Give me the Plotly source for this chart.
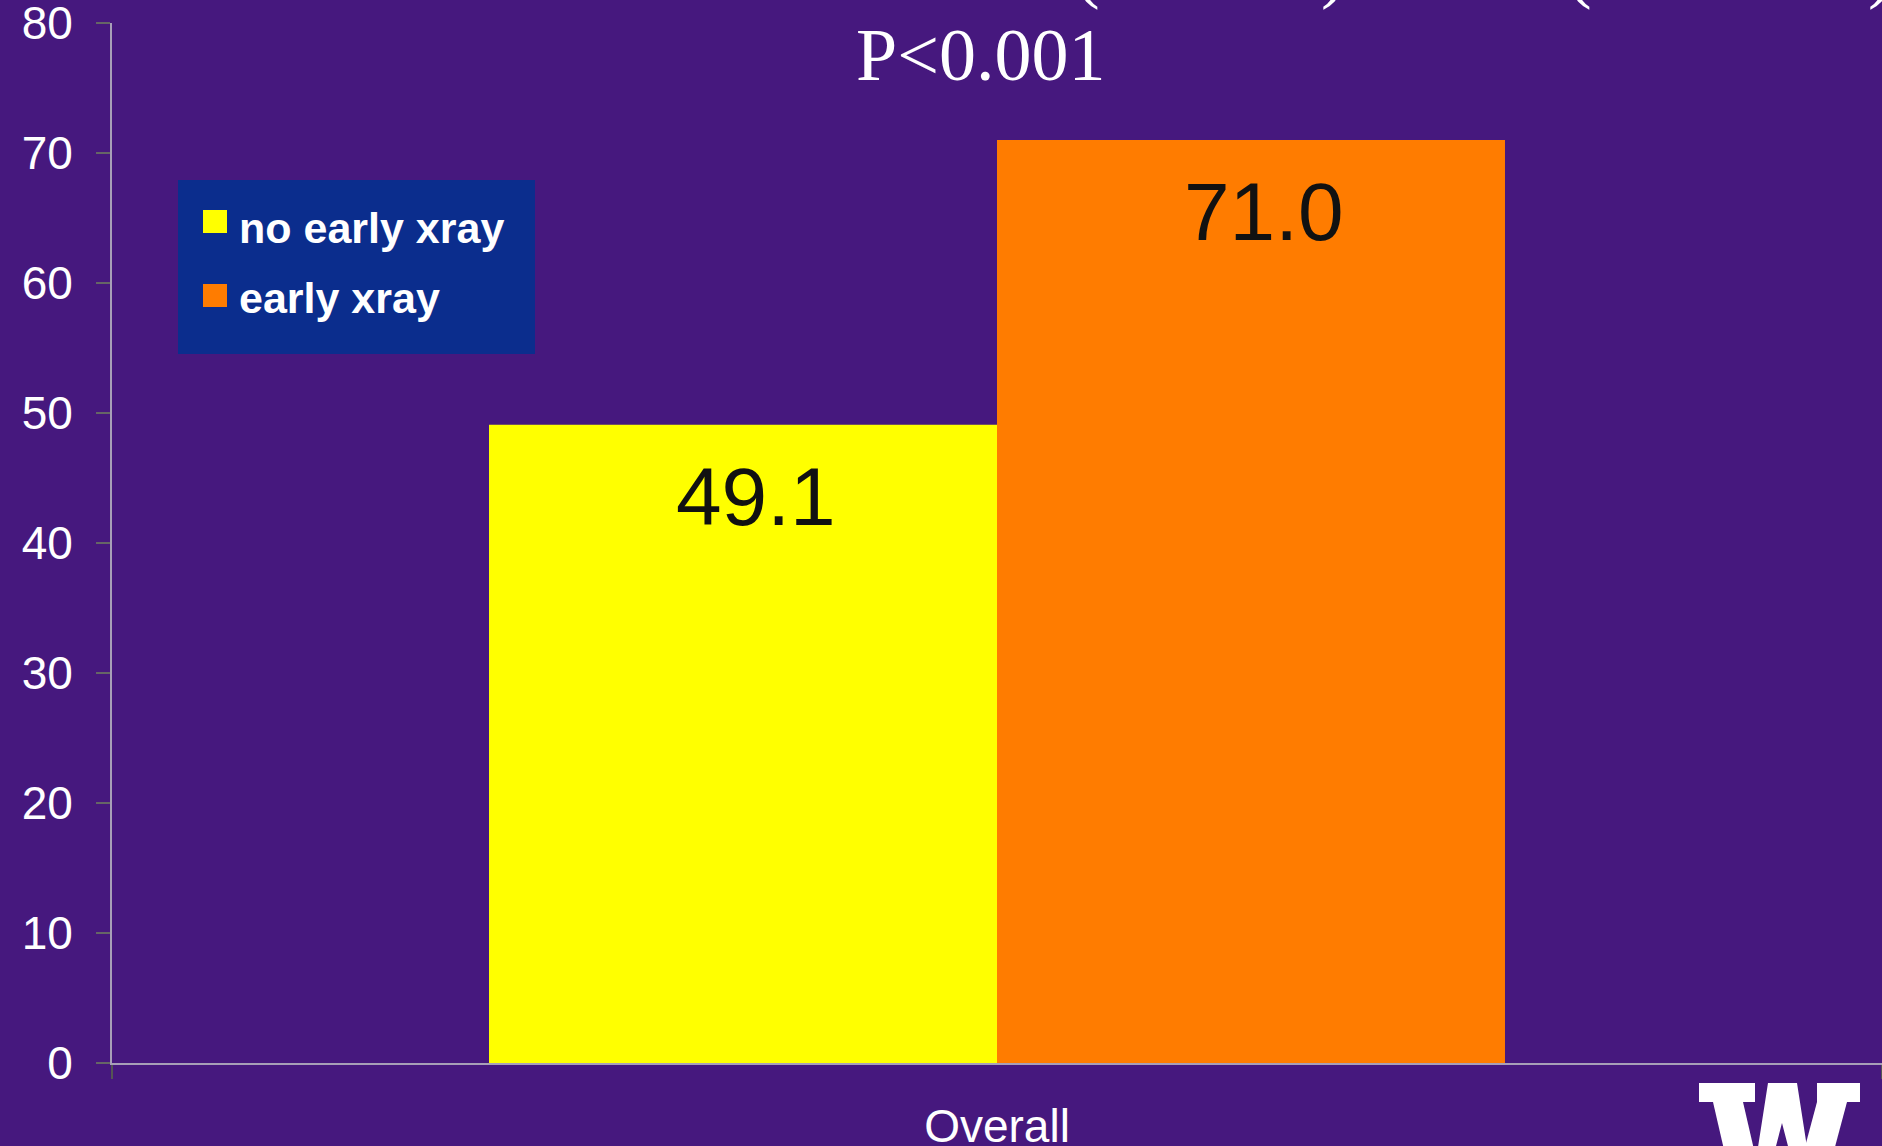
import plotly.graph_objects as go

# ---- data ----
categories = ["Overall"]
series_names = ["no early xray", "early xray"]
series_values = [[49.1], [71.0]]
series_colors = ["#FFFF00", "#FF7C00"]
y_ticks = [0, 10, 20, 30, 40, 50, 60, 70, 80]
p_text = "P<0.001"

# ---- layout constants (pixels) ----
W, H = 1882, 1146
ML, MR, MT, MB = 112, 0, 23, 83
PW, PH = W - ML - MR, H - MT - MB
BG = "#46187e"
BARGAP = 0.426


def px(x):
    return (x - ML) / PW


def py(y):
    return (H - MB - y) / PH


fig = go.Figure()
for name, vals, col in zip(series_names, series_values, series_colors):
    fig.add_trace(go.Bar(x=categories, y=vals, name=name,
                         marker=dict(color=col, line=dict(width=0)),
                         showlegend=False))

annotations = []
shapes = []

# value labels inside the top of each bar
n = len(series_names)
group = 1 - BARGAP
for i, vals in enumerate(series_values):
    offset = -group / 2 + group / n * (i + 0.5)
    for j, v in enumerate(vals):
        annotations.append(dict(
            x=j + offset, y=v, xref="x", yref="y", text=f"{v:.1f}",
            showarrow=False, xanchor="center", yanchor="top", yshift=-24, xshift=13,
            font=dict(family="Liberation Sans, Arial", size=82, color="#111111")))

# p-value heading
annotations.append(dict(
    x=px(980), y=py(12), xref="paper", yref="paper", text=p_text,
    showarrow=False, xanchor="center", yanchor="top",
    font=dict(family="Liberation Serif, Times New Roman", size=74, color="white")))

# tails of the heading line above
for ch, xc in [("(", 1087), (")", 1333), ("(", 1579), (")", 1880)]:
    annotations.append(dict(
        x=px(xc), y=py(-74), xref="paper", yref="paper", text=ch,
        showarrow=False, xanchor="center", yanchor="top",
        font=dict(family="Liberation Serif, Times New Roman", size=74, color="white")))

# legend box
shapes.append(dict(type="rect", xref="paper", yref="paper",
                   x0=px(178), x1=px(535), y0=py(354), y1=py(180),
                   fillcolor="#0b2d8d", line=dict(width=0), layer="above"))
legend_rows = [(210, 202), (284, 272)]
for (sq_top, txt_top), name, col in zip(legend_rows, series_names, series_colors):
    shapes.append(dict(type="rect", xref="paper", yref="paper",
                       x0=px(203), x1=px(227), y0=py(sq_top + 23), y1=py(sq_top),
                       fillcolor=col, line=dict(width=0), layer="above"))
    annotations.append(dict(
        x=px(237), y=py(txt_top), xref="paper", yref="paper", text=f"<b>{name}</b>",
        showarrow=False, xanchor="left", yanchor="top",
        font=dict(family="Liberation Sans, Arial", size=43, color="white")))

# block W emblem, bottom right
wx, wy = 1699, 1083
w_polys = [
    [(0, 0), (56, 0), (56, 19), (0, 19)],
    [(14, 19), (44, 19), (65, 110), (35, 110)],
    [(69, 0), (98, 0), (112, 90), (96, 90), (83, 40), (70, 90), (55, 90)],
    [(118, 19), (148, 19), (129, 90), (99, 90)],
    [(118, 0), (161, 0), (161, 19), (118, 19)],
]
for poly in w_polys:
    path = "M " + " L ".join(f"{px(wx + a):.5f},{py(wy + b):.5f}" for a, b in poly) + " Z"
    shapes.append(dict(type="path", xref="paper", yref="paper", path=path,
                       fillcolor="white", line=dict(width=0), layer="above"))

tick_font = dict(family="Liberation Sans, Arial", size=46, color="white")

fig.update_layout(
    width=W, height=H,
    margin=dict(l=ML, r=MR, t=MT, b=MB, pad=0, autoexpand=False),
    paper_bgcolor=BG, plot_bgcolor=BG,
    barmode="group", bargap=BARGAP, bargroupgap=0,
    annotations=annotations, shapes=shapes,
    xaxis=dict(type="category", range=[-0.5, 0.5], showgrid=False, zeroline=False,
               automargin=False, showline=True, linecolor="#a89fb8", linewidth=2,
               ticks="outside", tickson="boundaries", ticklen=14, tickcolor="#555555",
               tickwidth=2, ticklabelstandoff=22, ticklabeloverflow="allow",
               tickfont=tick_font),
    yaxis=dict(range=[0, 80], tickvals=y_ticks, showgrid=False, zeroline=False,
               automargin=False, showline=True, linecolor="#a89fb8", linewidth=2,
               ticks="outside", ticklen=14, tickcolor="#666666", tickwidth=2,
               ticklabelstandoff=14, ticklabeloverflow="allow",
               tickfont=tick_font),
)

fig.write_html("out.html")
